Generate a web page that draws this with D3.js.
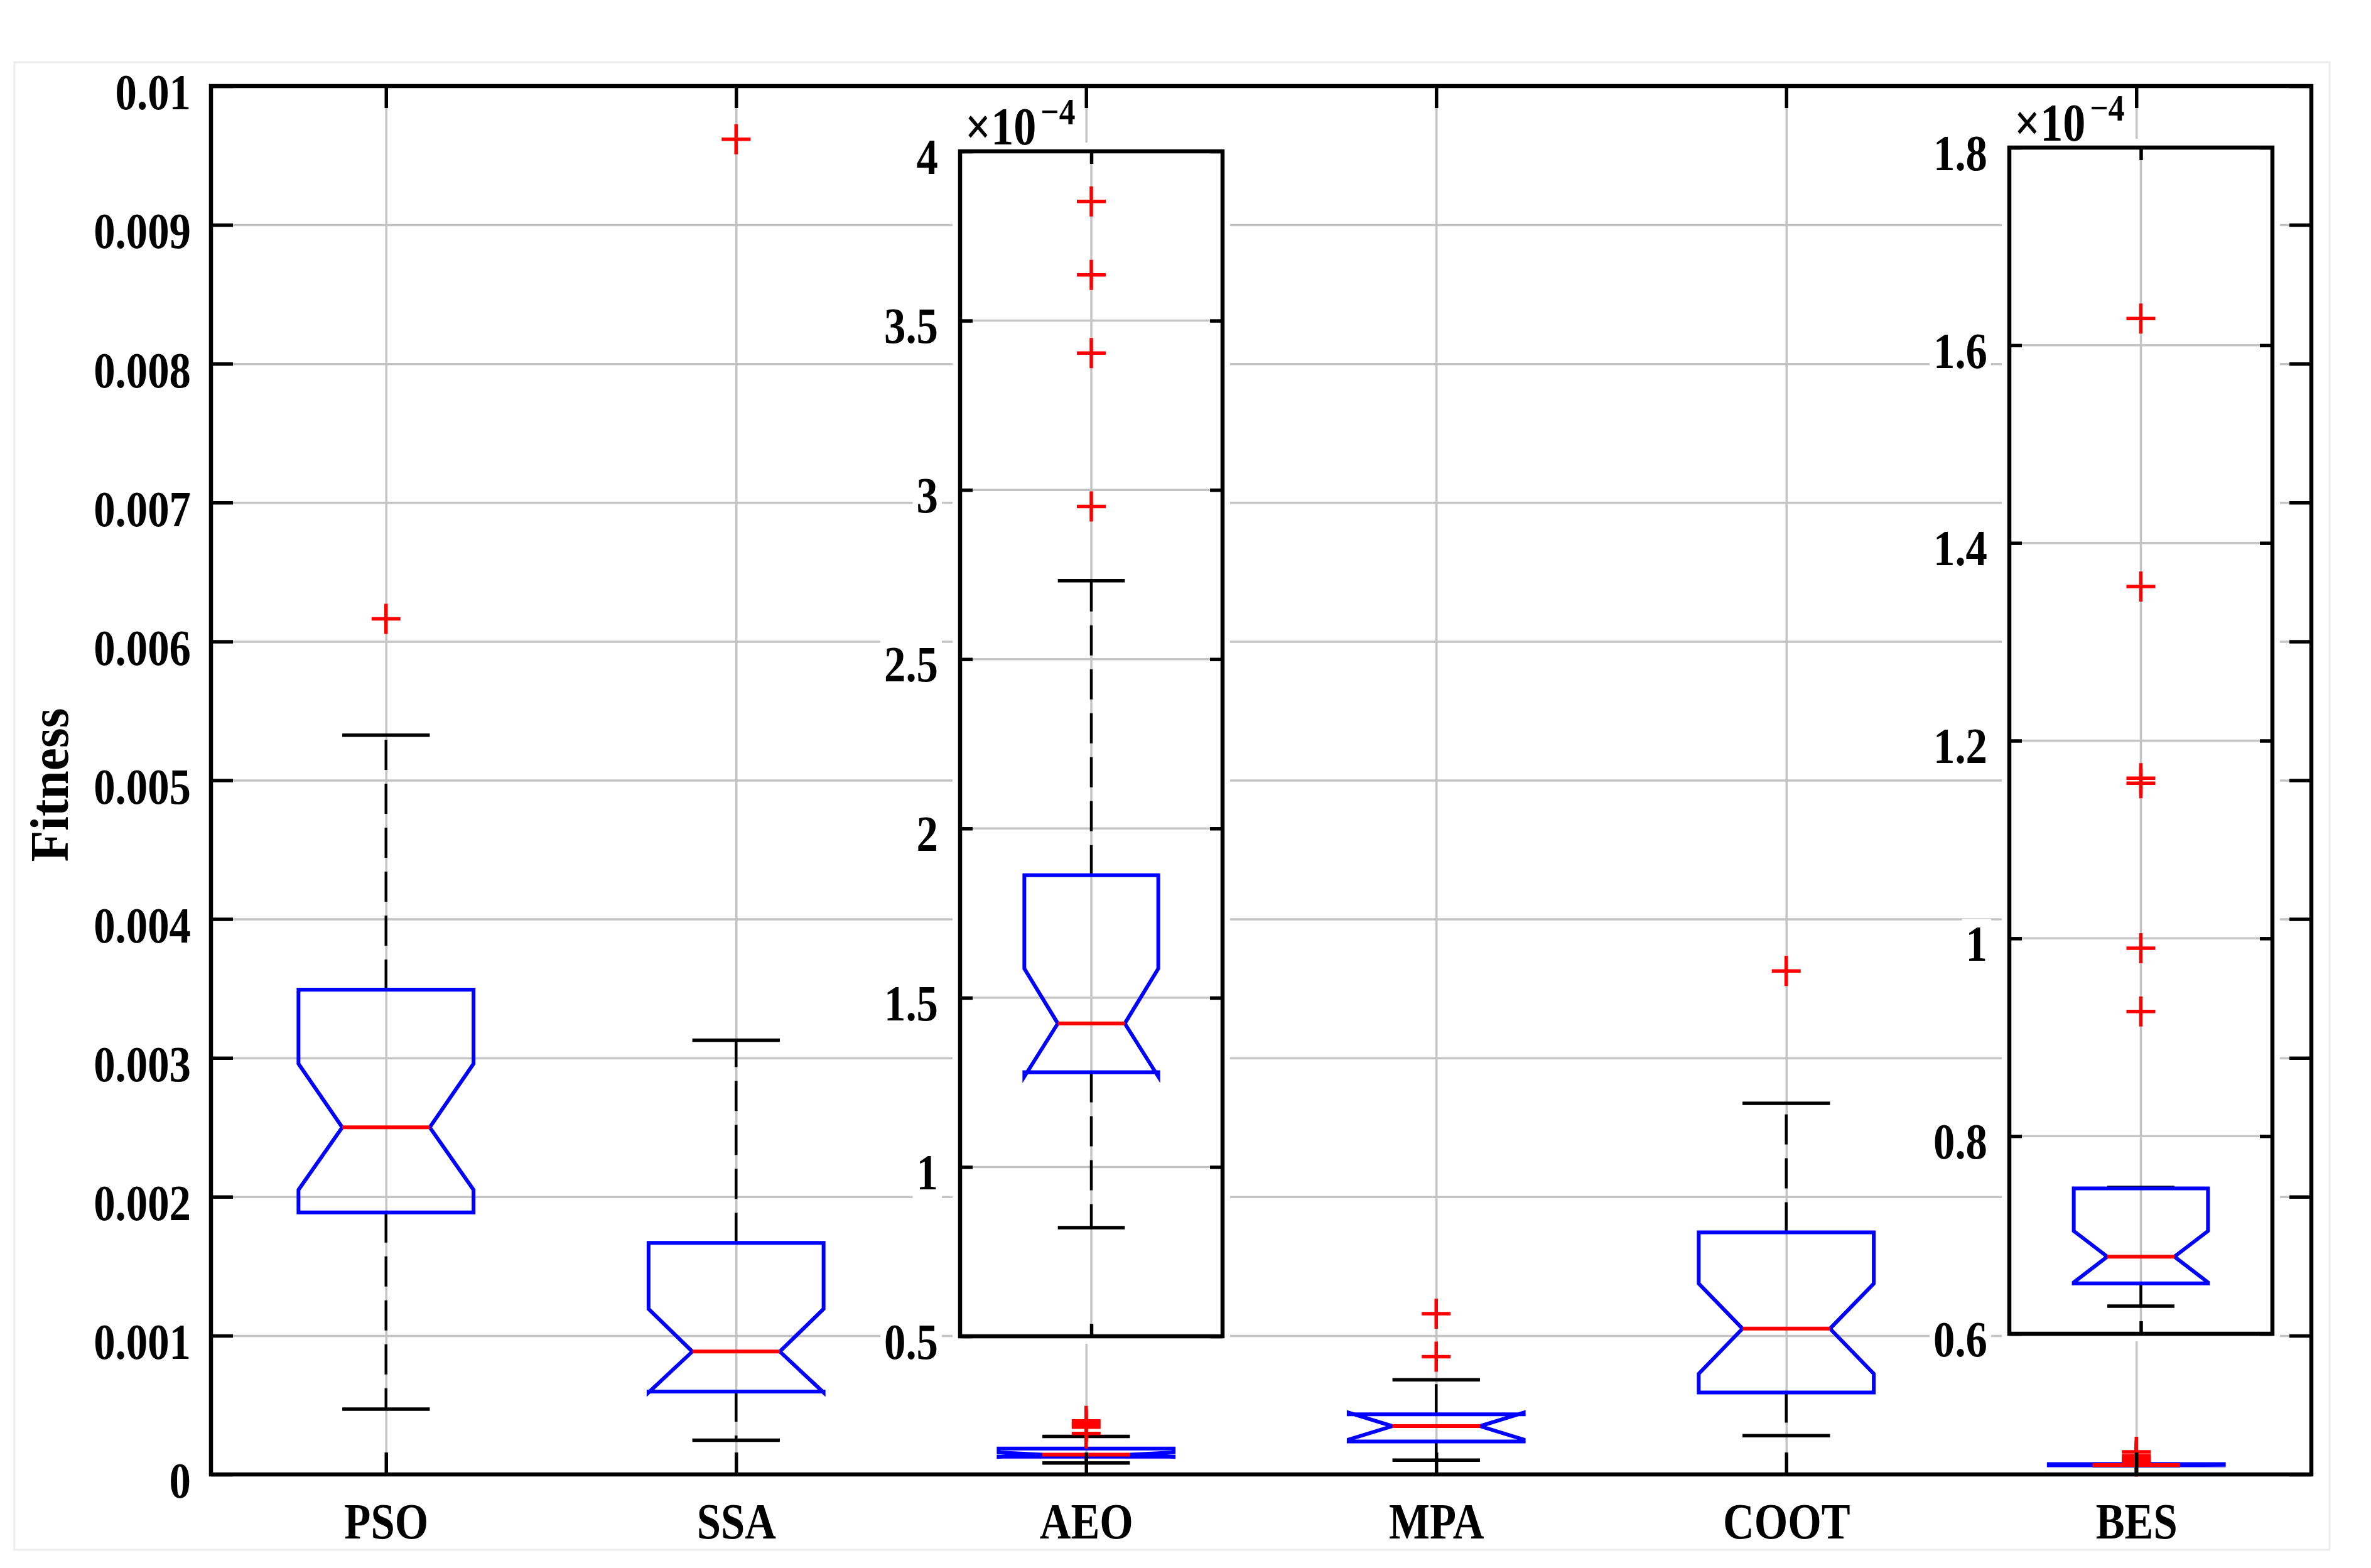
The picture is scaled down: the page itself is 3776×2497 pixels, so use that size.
<!DOCTYPE html>
<html>
<head>
<meta charset="utf-8">
<script src="https://cdn.jsdelivr.net/npm/d3@7"></script>
<style>
body { margin: 0; background: #fff; }
text { font-family: "Liberation Serif", "Times New Roman", serif; font-weight: bold; fill: #000; }
</style>
</head>
<body>
<script>
// box plot statistics per algorithm (fitness values)
var algorithms = ["PSO", "SSA", "AEO", "MPA", "COOT", "BES"];
var q1        = [1.887e-3, 0.597e-3, 1.280e-4, 0.237e-3, 0.590e-3, 0.651e-4];
var medians   = [2.500e-3, 0.885e-3, 1.424e-4, 0.348e-3, 1.050e-3, 0.678e-4];
var q3        = [3.492e-3, 1.668e-3, 1.862e-4, 0.433e-3, 1.743e-3, 0.747e-4];
var notchLo   = [2.050e-3, 0.590e-3, 1.267e-4, 0.251e-3, 0.725e-3, 0.652e-4];
var notchHi   = [2.958e-3, 1.192e-3, 1.586e-4, 0.445e-3, 1.375e-3, 0.704e-4];
var whiskerLo = [0.470e-3, 0.247e-3, 0.821e-4, 0.103e-3, 0.279e-3, 0.628e-4];
var whiskerHi = [5.324e-3, 3.128e-3, 2.732e-4, 0.682e-3, 2.673e-3, 0.748e-4];
var outliers  = [
    [6.162e-3],
    [9.617e-3],
    [3.852e-4, 3.635e-4, 3.404e-4, 2.951e-4],
    [1.158e-3, 0.848e-3],
    [3.626e-3],
    [1.627e-4, 1.356e-4, 1.162e-4, 1.157e-4, 0.990e-4, 0.926e-4]
];

// tick values
var yTicks   = [0, 0.001, 0.002, 0.003, 0.004, 0.005, 0.006, 0.007, 0.008, 0.009, 0.01];
var aeoTicks = [0.5, 1, 1.5, 2, 2.5, 3, 3.5, 4];          // x 1e-4
var besTicks = [0.6, 0.8, 1, 1.2, 1.4, 1.6, 1.8];         // x 1e-4

var SX = 0.86;   // horizontal squeeze of the labels

window.onload = function(){
    drawChart();
};

function drawBox(g, i, cx, y, k, hw){
    // k rescales the values (1 on the main axes, 1e4 in the insets)
    var nw = hw / 2;
    var v = function(a){ return y(a[i] * k); };
    var b = g.append("g");

    // whiskers
    [[q3, whiskerHi], [q1, whiskerLo]].forEach(function(p){
        b.append("line")
            .attr("x1", cx).attr("x2", cx)
            .attr("y1", v(p[0])).attr("y2", v(p[1]))
            .attr("stroke", "#000").attr("stroke-width", 4.5)
            .attr("stroke-dasharray", "48,22");
        b.append("line")
            .attr("x1", cx - nw).attr("x2", cx + nw)
            .attr("y1", v(p[1])).attr("y2", v(p[1]))
            .attr("stroke", "#000").attr("stroke-width", 5.5);
    });

    // notched box
    var p = d3.path();
    p.moveTo(cx - hw, v(q1));
    p.lineTo(cx - hw, v(notchLo));
    p.lineTo(cx - nw, v(medians));
    p.lineTo(cx - hw, v(notchHi));
    p.lineTo(cx - hw, v(q3));
    p.lineTo(cx + hw, v(q3));
    p.lineTo(cx + hw, v(notchHi));
    p.lineTo(cx + nw, v(medians));
    p.lineTo(cx + hw, v(notchLo));
    p.lineTo(cx + hw, v(q1));
    p.closePath();
    b.append("path")
        .attr("d", p.toString())
        .attr("fill", "none")
        .attr("stroke", "#0000ff")
        .attr("stroke-width", 6);

    // median
    b.append("line")
        .attr("x1", cx - nw).attr("x2", cx + nw)
        .attr("y1", v(medians)).attr("y2", v(medians))
        .attr("stroke", "#ff0000").attr("stroke-width", 6);

    // outliers
    b.selectAll(".out")
        .data(outliers[i])
        .enter()
        .append("path")
        .attr("class", "out")
        .attr("transform", function(d){ return "translate(" + cx + "," + y(d * k) + ")"; })
        .attr("d", "M-23,0H23M0,-24V24")
        .attr("stroke", "#ff0000")
        .attr("stroke-width", 5.5);
}

function styleTicks(ax){
    ax.select(".domain").remove();
    ax.selectAll("line").attr("stroke", "#000").attr("stroke-width", 5.5);
}

function drawInset(svg, i, pos, ticks){
    var iw = pos.right - pos.left;
    var ih = pos.bottom - pos.top;
    var g = svg.append("g").attr("transform", "translate(" + pos.left + "," + pos.top + ")");

    var xs = d3.scaleLinear().domain([0.51, 1.49]).range([0, iw]);
    var ys = d3.scaleLinear().domain([ticks[0], ticks[ticks.length - 1]]).range([ih, 0]);

    // white background hides the main grid
    g.append("rect")
        .attr("x", -12).attr("y", -14)
        .attr("width", iw + 24).attr("height", ih + 26)
        .attr("fill", "#fff");

    // grid
    g.append("g").selectAll("line")
        .data(ticks)
        .enter()
        .append("line")
        .attr("x1", 0).attr("x2", iw)
        .attr("y1", function(d){ return ys(d); })
        .attr("y2", function(d){ return ys(d); })
        .attr("stroke", "#c4c4c4").attr("stroke-width", 3.5);
    g.append("line")
        .attr("x1", xs(1)).attr("x2", xs(1))
        .attr("y1", 0).attr("y2", ih)
        .attr("stroke", "#c4c4c4").attr("stroke-width", 3.5);

    drawBox(g, i, xs(1), ys, 1e4, xs(1.25) - xs(1));

    // axes
    var left = g.append("g")
        .call(d3.axisLeft(ys).tickValues(ticks).tickSize(-20).tickPadding(35)
            .tickFormat(function(d){ return String(+d.toFixed(1)); }));
    styleTicks(left);
    left.selectAll("text")
        .style("font-size", "80px")
        .attr("x", -35 / SX)
        .attr("dy", "0.44em")
        .attr("transform", "scale(" + SX + ",1)");
    left.selectAll(".tick").each(function(){
        var t = d3.select(this).select("text");
        var bb = t.node().getBBox();
        d3.select(this).insert("rect", "text")
            .attr("x", bb.x * SX - 6).attr("y", bb.y + 4)
            .attr("width", bb.width * SX + 12).attr("height", bb.height - 4)
            .attr("fill", "#fff");
    });

    styleTicks(g.append("g").attr("transform", "translate(" + iw + ",0)")
        .call(d3.axisRight(ys).tickValues(ticks).tickSize(-20).tickFormat("")));
    styleTicks(g.append("g")
        .call(d3.axisTop(xs).tickValues([1]).tickSize(-20).tickFormat("")));
    styleTicks(g.append("g").attr("transform", "translate(0," + ih + ")")
        .call(d3.axisBottom(xs).tickValues([1]).tickSize(-20).tickFormat("")));

    g.append("rect")
        .attr("width", iw).attr("height", ih)
        .attr("fill", "none")
        .attr("stroke", "#000").attr("stroke-width", 6.5);

    // exponent label
    var ex = g.append("text")
        .attr("transform", "translate(8,-11) scale(" + SX + ",1)")
        .style("font-size", "84px");
    ex.append("tspan").text("\u00d710");
    ex.append("tspan").attr("dx", 8).attr("dy", -32).style("font-size", "60px").text("\u22124");
}

function drawChart(){
    var svg = d3.select("body").append("svg").attr("width", 3776).attr("height", 2497);
    svg.append("rect").attr("width", 3776).attr("height", 2497).attr("fill", "#fff");

    // faint figure border
    svg.append("rect")
        .attr("x", 23).attr("y", 99)
        .attr("width", 3687).attr("height", 2369)
        .attr("fill", "none")
        .attr("stroke", "#ececec").attr("stroke-width", 3);

    var margin = {top: 137, right: 95, bottom: 149, left: 336};
    var w = 3776 - margin.left - margin.right;
    var h = 2497 - margin.top - margin.bottom;
    var g = svg.append("g").attr("transform", "translate(" + margin.left + "," + margin.top + ")");

    var xScale = d3.scaleLinear().domain([0.5, 6.5]).range([0, w]);
    var yScale = d3.scaleLinear().domain([0, 0.01]).range([h, 0]);
    var cats = d3.range(1, algorithms.length + 1);

    // grid
    var gx = g.append("g").attr("transform", "translate(0," + h + ")")
        .call(d3.axisBottom(xScale).tickValues(cats).tickSize(-h).tickFormat(""));
    var gy = g.append("g")
        .call(d3.axisLeft(yScale).tickValues(yTicks).tickSize(-w).tickFormat(""));
    [gx, gy].forEach(function(a){
        a.select(".domain").remove();
        a.selectAll("line").attr("stroke", "#c4c4c4").attr("stroke-width", 3.5);
    });

    // boxes on the main axes
    var hw = xScale(1.25) - xScale(1);
    algorithms.forEach(function(name, i){
        drawBox(g, i, xScale(i + 1), yScale, 1, hw);
    });

    // zoomed insets for AEO and BES
    drawInset(svg, 2, {left: 1529, right: 1947, top: 241, bottom: 2128}, aeoTicks);
    drawInset(svg, 5, {left: 3200, right: 3619, top: 235, bottom: 2124}, besTicks);

    // main axes
    var yAxis = g.append("g")
        .call(d3.axisLeft(yScale).tickValues(yTicks).tickSize(-35).tickPadding(32)
            .tickFormat(function(d){ return String(+d.toFixed(3)); }));
    styleTicks(yAxis);
    yAxis.selectAll("text")
        .style("font-size", "80px")
        .attr("x", -32 / SX)
        .attr("dy", "0.46em")
        .attr("transform", "scale(" + SX + ",1)");

    styleTicks(g.append("g").attr("transform", "translate(" + w + ",0)")
        .call(d3.axisRight(yScale).tickValues(yTicks).tickSize(-35).tickFormat("")));
    styleTicks(g.append("g")
        .call(d3.axisTop(xScale).tickValues(cats).tickSize(-35).tickFormat("")));

    var xAxis = g.append("g").attr("transform", "translate(0," + h + ")")
        .call(d3.axisBottom(xScale).tickValues(cats).tickSize(-35)
            .tickFormat(function(d){ return algorithms[d - 1]; }));
    styleTicks(xAxis);
    xAxis.selectAll("text")
        .style("font-size", "80px")
        .attr("y", 102)
        .attr("dy", 0)
        .attr("transform", "scale(" + SX + ",1)")
        .attr("x", 0);

    g.append("rect")
        .attr("width", w).attr("height", h)
        .attr("fill", "none")
        .attr("stroke", "#000").attr("stroke-width", 6.5);

    // y axis title
    svg.append("text")
        .attr("transform", "translate(108,1250) rotate(-90) scale(0.95,1)")
        .style("text-anchor", "middle")
        .style("font-size", "86px")
        .text("Fitness");
}
</script>
</body>
</html>
